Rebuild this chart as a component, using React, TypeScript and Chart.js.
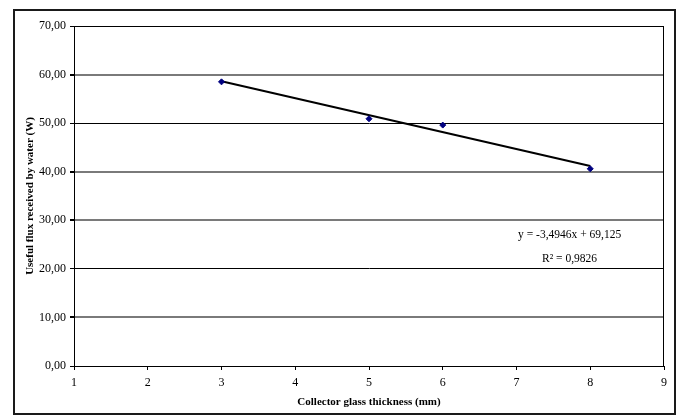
import { useEffect, useRef } from "react";
import { Chart, registerables } from "chart.js";

Chart.register(...registerables);

// Measured useful flux for each collector glass thickness
const thickness = [3, 5, 6, 8];
const flux = [58.5, 50.9, 49.6, 40.6];

// Linear trendline as reported on the chart
const trendSlope = -3.4946;
const trendIntercept = 69.125;
const equationLines = ["y = -3,4946x + 69,125", "R² = 0,9826"];

const xTitle = "Collector glass thickness (mm)";
const yTitle = "Useful flux received by water (W)";

const FONT = "'Liberation Serif', 'Times New Roman', serif";

const fmtComma = (v: number) => v.toFixed(2).replace(".", ",");

const framePlugin = {
  id: "frameAndEquation",
  afterDraw(chart: any) {
    const { ctx, chartArea } = chart;
    const { left, top, right, bottom } = chartArea;
    ctx.save();
    // plot area border
    ctx.strokeStyle = "#000";
    ctx.lineWidth = 1;
    ctx.strokeRect(left + 0.5, top + 0.5, right - left - 1, bottom - top);
    // trendline equation
    ctx.fillStyle = "#000";
    ctx.font = `11.5px ${FONT}`;
    ctx.textAlign = "center";
    ctx.textBaseline = "middle";
    const cx = left + (right - left) * 0.84;
    const cy = top + (bottom - top) * 0.614;
    ctx.fillText(equationLines[0], cx, cy);
    ctx.fillText(equationLines[1], cx, cy + 24);
    // outer chart frame
    ctx.strokeStyle = "#1a1a1a";
    ctx.lineWidth = 2;
    ctx.strokeRect(14, 10, 661, 404);
    ctx.restore();
  },
};

export default function App() {
  const canvasRef = useRef<HTMLCanvasElement | null>(null);

  useEffect(() => {
    const canvas = canvasRef.current;
    if (!canvas) return;
    const xMin = thickness[0];
    const xMax = thickness[thickness.length - 1];
    const trend = [
      { x: xMin, y: trendSlope * xMin + trendIntercept },
      { x: xMax, y: trendSlope * xMax + trendIntercept },
    ];

    const chart = new Chart(canvas, {
      type: "scatter",
      data: {
        datasets: [
          {
            type: "line",
            data: trend,
            borderColor: "#000",
            borderWidth: 2,
            pointRadius: 0,
            fill: false,
            order: 2,
          } as any,
          {
            data: thickness.map((x, i) => ({ x, y: flux[i] })),
            pointStyle: "rectRot",
            pointRadius: 3,
            backgroundColor: "#000080",
            borderColor: "#000080",
            borderWidth: 1,
            order: 1,
          },
        ],
      },
      options: {
        responsive: false,
        animation: false,
        events: [],
        layout: { padding: { left: 16, top: 26, right: 17, bottom: 0 } },
        plugins: {
          legend: { display: false },
          tooltip: { enabled: false },
        },
        scales: {
          x: {
            type: "linear",
            min: 1,
            max: 9,
            afterFit: (scale: any) => {
              scale.height = 49;
            },
            ticks: {
              stepSize: 1,
              color: "#000",
              padding: 6,
              font: { family: FONT, size: 12 },
              callback: (v: any) => String(v),
            },
            grid: {
              display: true,
              drawOnChartArea: false,
              drawTicks: true,
              tickLength: 4,
              tickColor: "#000",
              color: "#000",
            },
            border: { display: true, color: "#000", width: 1 },
            title: {
              display: true,
              text: xTitle,
              color: "#000",
              font: { family: FONT, size: 11, weight: "bold" },
              padding: { top: 0, bottom: 6 },
            },
          },
          y: {
            min: 0,
            max: 70,
            afterFit: (scale: any) => {
              scale.width = 58;
            },
            ticks: {
              stepSize: 10,
              color: "#000",
              padding: 4,
              font: { family: FONT, size: 12 },
              callback: (v: any) => fmtComma(Number(v)),
            },
            grid: {
              drawTicks: true,
              tickLength: 4,
              tickColor: "#000",
              color: (c: any) =>
                [10, 30, 40, 60].includes(c.tick?.value) ? "#7a7a7a" : "#000",
              lineWidth: (c: any) =>
                [10, 30, 40, 60].includes(c.tick?.value) ? 2 : 1,
            },
            border: { display: true, color: "#000", width: 1 },
            title: {
              display: true,
              text: yTitle,
              color: "#000",
              font: { family: FONT, size: 11, weight: "bold" },
              padding: { top: 8, bottom: 0 },
            },
          },
        },
      },
      plugins: [framePlugin],
    });

    return () => chart.destroy();
  }, []);

  return (
    <div style={{ position: "fixed", left: 0, top: 0, width: 681, height: 415, background: "#fff" }}>
      <canvas ref={canvasRef} width={681} height={415} style={{ display: "block" }} />
    </div>
  );
}
